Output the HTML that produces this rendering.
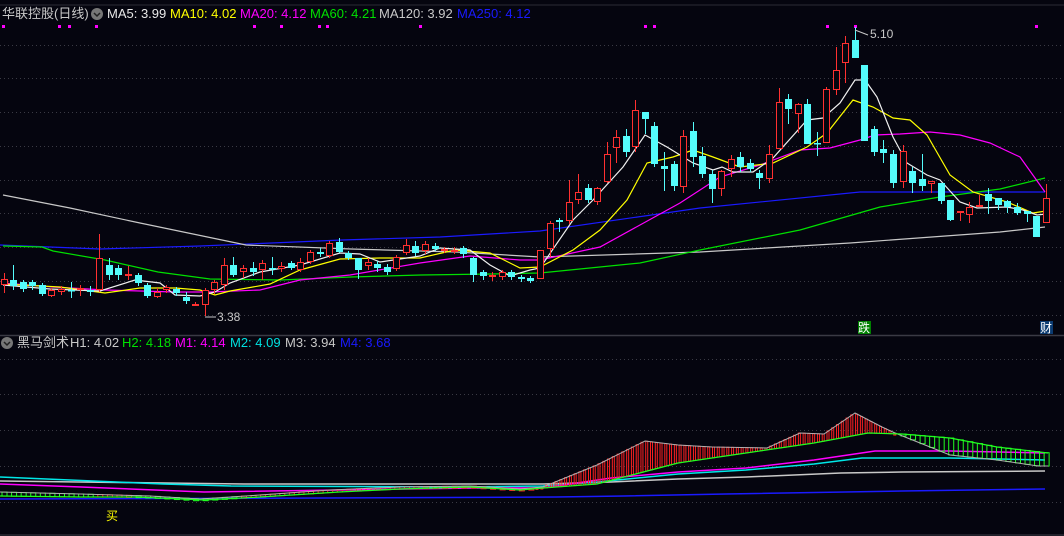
<!DOCTYPE html>
<html><head><meta charset="utf-8"><style>
html,body{margin:0;padding:0;background:#05050f;}
body{width:1064px;height:536px;overflow:hidden;position:relative;font-family:"Liberation Sans","Noto Sans CJK SC",sans-serif;}
svg{position:absolute;left:0;top:0;}
</style></head><body>
<svg id="s" width="1064" height="536" xmlns="http://www.w3.org/2000/svg">
<rect width="1064" height="536" fill="#05050f"/>
<line x1="0" y1="5" x2="1064" y2="5" stroke="#2a2a34"/>
<g id="grid" stroke="#3a3a44" stroke-dasharray="1,3"></g>
<line x1="0" y1="335.5" x2="1064" y2="335.5" stroke="#3a3a44" stroke-width="1.5"/>
<line x1="0" y1="535" x2="1064" y2="535" stroke="#3a3a44"/>
<g id="ma"></g><g id="cd"></g><g id="lw"></g>
<g font-size="13">
<text x="2" y="18" fill="#c8c8c8">华联控股(日线)</text>
<circle cx="97" cy="14" r="6" fill="#777"/><path d="M94 13l3 3 3-3" stroke="#222" fill="none" stroke-width="1.5"/>
<text x="107" y="18" fill="#e8e8e8">MA5: 3.99</text>
<text x="170" y="18" fill="#ffff00">MA10: 4.02</text>
<text x="240" y="18" fill="#ff00ff">MA20: 4.12</text>
<text x="310" y="18" fill="#00e000">MA60: 4.21</text>
<text x="379" y="18" fill="#c8c8c8">MA120: 3.92</text>
<text x="457" y="18" fill="#1a1aff">MA250: 4.12</text>
<circle cx="7" cy="343" r="6" fill="#777"/><path d="M4 342l3 3 3-3" stroke="#222" fill="none" stroke-width="1.5"/>
<text x="17" y="347" fill="#c8c8c8">黑马剑术</text>
<text x="70" y="347" fill="#c8c8c8">H1: 4.02</text>
<text x="122" y="347" fill="#00e000">H2: 4.18</text>
<text x="175" y="347" fill="#ff00ff">M1: 4.14</text>
<text x="230" y="347" fill="#00e0e0">M2: 4.09</text>
<text x="285" y="347" fill="#c8c8c8">M3: 3.94</text>
<text x="340" y="347" fill="#1a1aff">M4: 3.68</text>
<text x="870" y="38" fill="#c8c8c8" font-size="12">5.10</text>
<path d="M855 30l13 5" stroke="#c8c8c8"/>
<text x="217" y="321" fill="#c8c8c8" font-size="12">3.38</text>
<path d="M205 317h11" stroke="#c8c8c8"/>
<rect x="858" y="321" width="13" height="13" fill="#008000"/>
<text x="858" y="332" fill="#fff" font-size="12">跌</text>
<rect x="1040" y="321" width="13" height="13" fill="#0a3a70"/>
<text x="1040" y="332" fill="#fff" font-size="12">财</text>
<text x="106" y="520" fill="#ffff00" font-size="12">买</text>
</g>
</svg>
<script>
const NS="http://www.w3.org/2000/svg";
function el(p,t,a){const e=document.createElementNS(NS,t);for(const k in a)e.setAttribute(k,a[k]);p.appendChild(e);return e;}
const G=document.getElementById('grid');
[45,78,112,146,180,213,247,281,315,359,394,430,466,502].forEach(y=>el(G,'line',{x1:0,x2:1064,y1:y+.5,y2:y+.5}));
// magenta dots
[2,58,68,95,253,280,318,326,419,644,653,826,854,1035].forEach(x=>el(document.getElementById('ma'),'rect',{x:x,y:25,width:3,height:3,fill:'#ff00ff'}));
function pl(g,pts,c,w){el(g,'polyline',{points:pts.map(p=>p.join(',')).join(' '),fill:'none',stroke:c,'stroke-width':w||1.2});}
const M=document.getElementById('ma');
pl(M,[[0,245],[100,249],[200,246],[342,240],[440,237],[540,231],[700,208],[860,192],[1000,192],[1045,192]],'#1a1aff');
pl(M,[[3,195],[70,208],[140,223],[246,245],[351,249],[456,252],[540,257],[700,252],[850,243],[1000,232],[1045,227]],'#c8c8c8');
pl(M,[[3,246],[42,247],[53,251],[105,260],[158,272],[210,279],[280,280],[351,277],[421,275],[491,274],[540,273],[640,263],[700,250],[800,230],[880,207],[940,197],[1000,189],[1045,178]],'#00e000');
pl(M,[[3,283],[53,287],[105,290],[175,292],[210,292],[260,290],[300,280],[350,275],[420,263],[470,256],[520,260],[540,260],[600,247],[640,225],[680,203],[720,177],[760,165],[800,150],[830,148],[860,140],[875,135],[900,134],[930,132],[960,135],[990,143],[1020,157],[1045,192]],'#ff00ff');
pl(M,[[3,284],[60,287],[105,293],[140,288],[175,288],[200,290],[215,295],[230,291],[270,284],[300,270],[340,259],[380,258],[420,258],[455,250],[490,253],[520,268],[540,267],[573,250],[600,230],[627,200],[647,163],[673,157],[693,150],[713,157],[740,167],[773,163],[807,147],[827,133],[853,100],[873,107],[893,118],[910,120],[927,135],[950,175],[973,192],[1007,202],[1033,213],[1046,211]],'#ffff00');
pl(M,[[3,285],[50,289],[100,291],[135,280],[160,283],[175,295],[200,296],[215,292],[230,283],[260,272],[300,265],[340,253],[360,254],[380,262],[420,256],[440,248],[470,250],[490,265],[510,276],[530,270],[540,268],[573,220],[593,200],[623,167],[645,135],[667,147],[693,163],[713,170],[722,167],[733,172],[753,172],[773,158],[807,120],[823,118],[840,103],[855,80],[865,80],[877,97],[893,137],[907,163],[927,175],[940,180],[960,202],[977,208],[1007,207],[1023,210],[1037,215],[1046,214]],'#f0f0f0');
const L=`R 279 285 273 293
C 280 286 265 290
C 282 289 280 292
C 282 286 280 290
C 285 294 283 296
R 290 296 288 297
R 289 292 286 295
C 290 291 282 298
R 288 290 285 296
C 290 292 286 296
R 258 290 234 292
C 265 275 258 280
C 268 275 265 280
R 274 276 266 280
C 275 283 273 286
C 285 296 283 298
R 292 297 288 298
R 287 290 285 293
C 289 293 287 296
C 297 301 292 304
R 304 306 302 306
R 290 305 288 316
R 282 290 280 294
R 265 285 258 290
C 265 275 257 277
R 268 272 265 278
C 268 272 262 276
R 263 270 260 280
C 268 269 257 275
R 266 269 262 272
C 263 268 261 270
R 262 270 258 272
R 252 262 250 264
C 252 254 248 257
R 243 256 241 258
C 242 252 238 253
C 253 258 251 260
C 258 270 258 279
R 262 266 258 270
C 264 268 261 272
C 267 272 264 275
R 257 269 255 271
R 245 253 239 255
C 246 253 241 256
R 244 251 241 254
C 246 249 243 251
R 249 250 247 253
R 250 252 247 254
C 248 254 246 258
C 258 275 257 282
C 272 276 270 280
R 275 277 272 281
R 272 277 270 280
C 272 277 270 280
C 277 279 275 282
C 278 281 276 283`;
const R=`R 250 279 250 279
R 223 249 221 257
C 220 222 218 232
R 202 221 180 224
R 192 200 174 204
C 188 200 184 203
R 188 202 187 205
R 154 182 142 183
R 137 148 130 163
C 136 152 129 157
R 110 147 100 152
C 112 119 112 134
C 126 164 122 167
C 166 169 152 191
C 164 186 161 191
R 136 187 130 193
C 131 157 122 167
C 156 174 147 178
C 174 189 170 203
R 171 189 170 196
R 159 169 155 177
C 157 167 152 172
C 163 169 159 172
C 173 178 170 189
R 154 179 145 183
R 102 149 88 149
C 99 109 94 124
R 104 114 103 133
C 104 144 99 144
C 143 144 132 156
R 89 143 87 143
R 70 90 47 95
R 43 63 36 83
C 40 58 27 58
C 65 141 65 141
C 129 152 126 156
C 149 153 140 163
C 154 183 150 188
R 151 182 145 188
C 171 183 167 193
C 179 186 154 191
R 181 184 181 193
C 183 201 183 204
C 200 220 200 221
R 211 212 211 221
R 207 215 202 223
R 205 207 195 207
C 194 201 188 214
C 198 205 198 210
C 201 207 200 213
C 207 213 203 215
C 211 214 211 222
C 216 237 216 237
R 198 223 184 223`;
const C=document.getElementById('cd');
function draw(txt,x0,dx){txt.split('\n').forEach((ln,i)=>{const [c,a,b,h,l]=ln.trim().split(/\s+/);const t=+a,bt=+b,x=Math.round(x0+dx*i);
 const col=c=='R'?'#ff3030':'#54fcfc';
 el(C,'line',{x1:x+.5,x2:x+.5,y1:h,y2:l,stroke:col});
 if(c=='R'){ if(bt-t<2) el(C,'rect',{x:x-3,y:t,width:7,height:2,fill:col}); else el(C,'rect',{x:x-2.5,y:t+.5,width:6,height:bt-t-1,fill:'#05050f',stroke:col});}
 else el(C,'rect',{x:x-3,y:t,width:7,height:Math.max(bt-t,1.5),fill:col});
});}
draw(L,3.5,9.58);draw(R,540,9.54);
const W=document.getElementById('lw');
const H1=[[0,492],[80,494],[150,496],[200,499],[260,495],[330,490],[400,487],[470,486],[520,489],[543,487],[597,465],[645,441],[678,445],[712,447],[767,448],[800,433],[824,434],[855,413],[882,427],[895,433],[950,455],[997,460],[1038,466],[1048,466]];
const H2=[[0,496],[80,497],[136,497],[204,500],[260,497],[339,492],[400,489],[470,487],[520,490],[543,488],[597,484],[678,463],[746,453],[814,443],[868,433],[902,434],[950,438],[997,447],[1048,453]];
function itp(P,x){for(let i=1;i<P.length;i++)if(x<=P[i][0]){const a=P[i-1],b=P[i];return a[1]+(b[1]-a[1])*(x-a[0])/(b[0]-a[0]);}return P[P.length-1][1];}
pl(W,[[0,499],[326,498],[556,497],[624,496],[726,494],[902,491],[1045,489]],'#1a1aff',1.5);
pl(W,[[0,481],[244,484],[543,484],[611,482],[678,479],[746,477],[841,473],[902,472],[1045,471]],'#c8c8c8',1.5);
pl(W,[[0,477],[163,484],[231,486],[461,487],[543,486],[597,482],[678,474],[746,470],[814,464],[862,458],[950,458],[1045,460]],'#00e8e8',1.5);
pl(W,[[0,484],[81,487],[204,492],[475,488],[543,488],[611,478],[678,472],[746,468],[814,460],[875,451],[950,451],[1045,453]],'#ff00ff',1.5);
for(let i=0;i<110;i++){const x=i<56?3.5+9.58*i:540+9.54*(i-56);
 const red=(x>95&&x<135)||(x>240&&x<532)||(x>=540&&x<893);
 const sub=(x>=540&&x<893)?[x-2.5,x+2.3]:[x];
 sub.forEach(xx=>{let a=itp(H1,xx),b=itp(H2,xx);let t=Math.min(a,b),h=Math.max(Math.abs(a-b),2);
 el(W,'rect',{x:xx-1.5,y:t,width:red&&x>=540?2:5,height:h,fill:'none',stroke:red?'#ff2020':'#20ff20','stroke-width':1});});}
pl(W,H1,'#b0b0b0',1);pl(W,H2,'#20ff20',1.3);
</script>
</body></html>
